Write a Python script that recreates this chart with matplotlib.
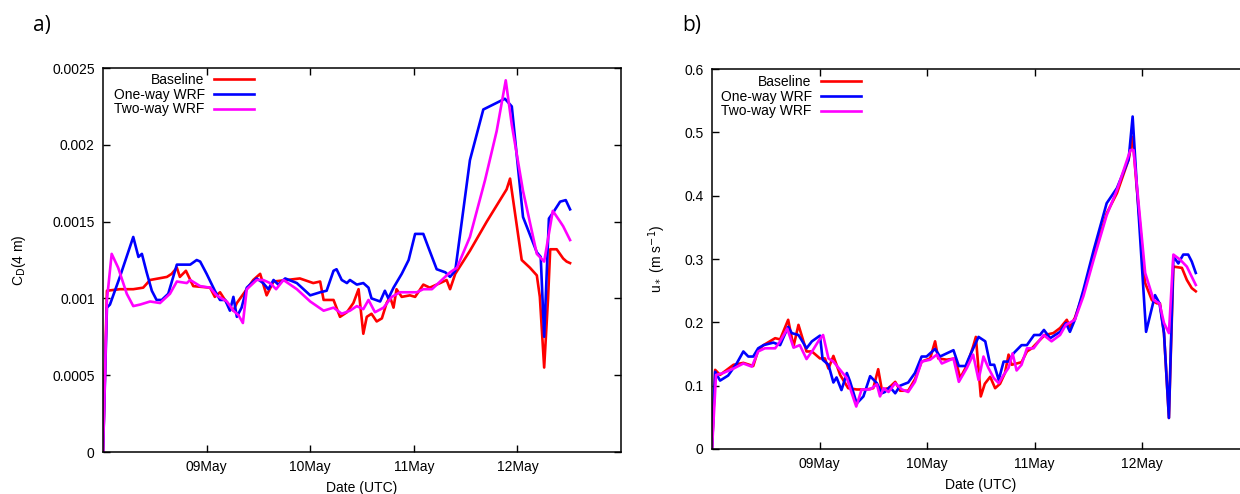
import matplotlib
matplotlib.use("Agg")
import matplotlib.pyplot as plt
import numpy as np

plt.rcParams["font.family"] = ["Liberation Sans", "DejaVu Sans"]
plt.rcParams["font.size"] = 10

# hours since 08 May 00 UTC
labels = ["Baseline", "One-way WRF", "Two-way WRF"]
colors = ["#ff0000", "#0000ff", "#ff00ff"]
day_ticks = [1, 2, 3, 4]
day_labels = ["09May", "10May", "11May", "12May"]

# drag coefficient at 4 m
cd_base_t = [0, 0.9, 3.9, 7.0, 9.3, 10.9, 14.8, 15.9, 17.1, 17.8, 19.2, 20.9, 24.8, 25.9, 27.1,
             28.7, 30.2, 31.0, 33.3, 34.8, 36.4, 37.9, 39.5, 42.6, 45.6, 48.7, 50.3, 51.1, 53.4,
             54.9, 56.5, 58.0, 59.2, 60.3, 61.1, 62.2, 63.4, 64.6, 65.7, 66.5, 67.3, 68.0, 69.2,
             71.1, 72.3, 74.2, 75.7, 78.1, 79.6, 80.4, 81.6, 85.0, 88.9, 93.5, 94.3, 97.0, 98.9,
             100.5, 101.2, 102.2, 103.1, 103.6, 105.1, 106.6, 107.4, 108.2]
cd_base = [0, .00105, .00106, .00106, .00107, .00112, .00114, .00116, .00120, .00114, .00118,
           .00108, .00107, .00101, .00104, .00097, .00092, .00097, .00106, .00112, .00116,
           .00102, .00111, .00112, .00113, .00110, .00111, .00099, .00099, .00088, .00091,
           .00097, .00106, .00077, .00088, .00090, .00085, .00087, .00097, .00101, .00094,
           .00106, .00101, .00102, .00101, .00109, .00107, .00110, .00112, .00106, .00116,
           .00131, .00150, .00171, .00178, .00125, .00120, .00115, .00101, .00055, .00100,
           .00132, .00132, .00126, .00124, .00123]

cd_one_t = [0, 0.9, 1.6, 3.9, 7.0, 8.2, 9.0, 10.1, 11.3, 12.4, 13.6, 15.1, 17.1, 20.2, 21.7,
            22.5, 24.0, 25.9, 27.1, 28.3, 29.4, 30.2, 31.0, 32.1, 33.3, 35.6, 37.1, 38.3, 39.5,
            40.6, 42.2, 44.9, 48.0, 50.3, 51.8, 53.4, 54.1, 55.3, 56.5, 57.2, 58.8, 60.3, 61.5,
            62.2, 64.2, 65.3, 66.1, 67.3, 69.2, 70.8, 72.3, 74.2, 75.4, 77.3, 79.3, 80.4, 81.6,
            85.0, 88.1, 93.1, 94.7, 97.3, 100.5, 101.4, 102.2, 103.3, 104.3, 105.9, 107.2, 108.2]
cd_one = [0, .00094, .00096, .00114, .00140, .00127, .00129, .00117, .00105, .00099, .00099,
          .00103, .00122, .00122, .00125, .00124, .00116, .00105, .00099, .00099, .00092,
          .00101, .00088, .00094, .00107, .00113, .00110, .00106, .00112, .00109, .00113,
          .00110, .00102, .00104, .00105, .00118, .00119, .00112, .00110, .00112, .00109,
          .00110, .00107, .00100, .00098, .00105, .00100, .00107, .00116, .00125, .00142,
          .00142, .00133, .00119, .00117, .00114, .00118, .00190, .00223, .00230, .00225,
          .00153, .00130, .00127, .00075, .00152, .00156, .00163, .00164, .00158]

cd_two_t = [0, 0.9, 2.0, 3.5, 5.5, 7.0, 8.6, 10.9, 13.2, 15.5, 17.1, 19.4, 20.2, 22.5, 24.8,
            26.3, 28.7, 30.2, 31.4, 32.4, 33.3, 35.6, 37.1, 38.7, 40.1, 41.8, 44.9, 48.0, 51.1,
            53.4, 55.3, 57.2, 58.8, 60.3, 61.5, 63.0, 65.0, 66.9, 68.8, 72.7, 74.2, 76.2, 78.1,
            80.4, 82.0, 85.0, 88.5, 91.2, 93.3, 94.7, 97.3, 100.5, 102.2, 104.2, 105.9, 106.6,
            108.2]
cd_two = [0, .00099, .00129, .00120, .00103, .00095, .00096, .00098, .00097, .00103, .00111,
          .00110, .00112, .00108, .00107, .00102, .00098, .00092, .00089, .00084, .00106,
          .00112, .00112, .00110, .00106, .00112, .00106, .00098, .00092, .00094, .00090,
          .00092, .00095, .00093, .00099, .00091, .00094, .00101, .00104, .00104, .00106,
          .00106, .00111, .00117, .00120, .00140, .00177, .00209, .00242, .00213, .00170,
          .00129, .00124, .00157, .00150, .00147, .00138]

# friction velocity (m/s)
us_base_t = [0, 0.7, 1.8, 4.8, 7.0, 9.2, 10.3, 11.5, 14.1, 15.2, 17.0, 18.2, 19.3, 21.1, 22.3,
             24.1, 25.2, 26.0, 27.1, 28.6, 30.4, 32.3, 34.5, 36.0, 37.1, 37.9, 39.4, 40.9, 42.0,
             43.8, 45.3, 46.8, 48.7, 49.8, 50.5, 52.4, 54.3, 55.4, 56.9, 58.3, 58.9, 60.0, 60.9,
             62.1, 63.2, 64.3, 65.4, 66.2, 66.9, 68.0, 69.1, 70.3, 71.4, 72.9, 74.3, 76.2, 77.7,
             79.2, 79.9, 81.0, 82.9, 85.2, 88.1, 90.4, 93.0, 93.9, 94.8, 96.7, 98.2, 99.3, 100.0,
             100.9, 102.0, 103.0, 104.9, 106.0, 107.1, 108.0]
us_base = [0, .125, .117, .133, .136, .131, .156, .164, .175, .173, .204, .162, .196, .154,
           .154, .143, .143, .127, .147, .117, .096, .094, .094, .096, .126, .094, .096, .106,
           .092, .092, .110, .138, .143, .170, .143, .141, .143, .112, .132, .162, .177, .083,
           .103, .114, .096, .103, .120, .149, .133, .135, .137, .154, .159, .170, .180, .183,
           .191, .204, .193, .207, .246, .304, .372, .404, .457, .493, .414, .262, .235, .230,
           .230, .183, .049, .288, .286, .267, .254, .249]

us_one_t = [0, 0.7, 1.8, 3.6, 5.5, 7.0, 8.1, 9.2, 10.3, 11.5, 13.7, 15.2, 16.5, 17.0, 17.8,
            19.3, 20.0, 21.1, 22.3, 24.1, 24.7, 26.0, 27.1, 27.8, 28.9, 30.1, 30.8, 32.3, 33.8,
            35.3, 36.8, 37.9, 38.6, 39.7, 40.9, 42.0, 43.8, 45.3, 46.8, 47.9, 49.8, 50.9, 53.9,
            55.1, 56.6, 57.3, 59.5, 61.0, 62.1, 63.0, 64.0, 65.1, 66.2, 67.3, 69.1, 70.3, 71.9,
            73.2, 74.1, 75.5, 77.7, 79.0, 79.9, 81.0, 82.9, 85.2, 88.1, 90.4, 93.0, 93.9, 94.8,
            96.9, 98.9, 99.9, 100.9, 102.0, 103.0, 104.1, 105.2, 106.3, 107.1, 108.0]
us_one = [0, .122, .108, .116, .135, .154, .146, .146, .159, .164, .168, .164, .185, .193,
          .183, .180, .172, .159, .170, .179, .141, .133, .105, .113, .093, .120, .107, .072,
          .083, .115, .104, .088, .090, .098, .088, .100, .105, .120, .146, .146, .158, .146,
          .156, .131, .131, .143, .177, .170, .133, .133, .109, .138, .138, .151, .164, .164,
          .180, .180, .188, .175, .185, .199, .185, .204, .251, .314, .388, .412, .457, .525,
          .420, .185, .243, .230, .183, .049, .304, .293, .307, .307, .296, .278]

us_two_t = [0, 0.9, 2.5, 4.8, 7.0, 8.9, 10.3, 11.8, 14.1, 15.2, 16.8, 18.2, 19.6, 21.1, 22.6,
            23.9, 24.8, 26.0, 27.1, 28.6, 30.1, 31.2, 32.2, 33.4, 35.3, 36.8, 37.5, 38.3, 39.4,
            40.9, 42.4, 43.8, 45.3, 46.8, 48.7, 50.2, 51.3, 53.9, 55.1, 56.9, 58.3, 59.5, 60.6,
            61.7, 62.9, 64.0, 65.1, 66.2, 67.1, 68.0, 69.1, 70.3, 71.8, 74.0, 75.8, 77.7, 79.0,
            81.0, 82.9, 85.2, 88.1, 90.4, 93.4, 94.1, 94.8, 96.7, 98.6, 99.9, 100.9, 102.0,
            103.0, 104.5, 106.0, 107.1, 108.0]
us_two = [0, .117, .120, .127, .135, .130, .154, .159, .159, .170, .190, .160, .164, .142,
          .157, .172, .180, .143, .138, .125, .112, .088, .067, .094, .094, .102, .083, .096,
          .090, .104, .094, .090, .106, .138, .141, .149, .135, .143, .106, .128, .149, .109,
          .146, .128, .112, .104, .117, .128, .151, .124, .133, .159, .159, .180, .170, .180,
          .196, .204, .241, .299, .369, .409, .472, .472, .420, .278, .235, .230, .199, .183,
          .307, .299, .288, .272, .259]

cd_ticks = [0, 0.0005, 0.001, 0.0015, 0.002, 0.0025]
cd_tick_labels = ["0", "0.0005", "0.001", "0.0015", "0.002", "0.0025"]
us_ticks = [0, 0.1, 0.2, 0.3, 0.4, 0.5, 0.6]
us_tick_labels = ["0", "0.1", "0.2", "0.3", "0.4", "0.5", "0.6"]

fig = plt.figure(figsize=(12.4, 4.94), dpi=100)
ax_a = fig.add_axes([0.0831, 0.085, 0.4177, 0.7773])
ax_b = fig.add_axes([0.5742, 0.0911, 0.4335, 0.7692])


def draw_panel(ax, series, yticks, yticklabels, ylim, ylabel, label_x, leg_anchor):
    for (t, v), lab, col in zip(series, labels, colors):
        ax.plot(np.array(t) / 24.0, v, color=col, lw=1.9, label=lab)
    ax.set_xlim(0, 5)
    ax.set_ylim(*ylim)
    ax.set_xticks(day_ticks)
    ax.set_xticklabels(day_labels)
    ax.set_yticks(yticks)
    ax.set_yticklabels(yticklabels)
    ax.tick_params(direction="in", length=5, width=1.0, top=True, right=True,
                   labelsize=10, pad=6)
    for sp in ax.spines.values():
        sp.set_linewidth(1.1)
    ax.set_xlabel("Date (UTC)", fontsize=10, labelpad=5)
    ax.set_ylabel(ylabel, fontsize=10)
    ax.yaxis.set_label_coords(label_x, 0.5)
    ax.legend(loc="upper right", bbox_to_anchor=leg_anchor, frameon=False,
              markerfirst=False, handlelength=2.9, handletextpad=0.65,
              labelspacing=0.05, borderpad=0, borderaxespad=0, fontsize=10)


draw_panel(ax_a, [(cd_base_t, cd_base), (cd_one_t, cd_one), (cd_two_t, cd_two)],
           cd_ticks, cd_tick_labels, (0, 0.0025), r"C$_{\rm D}$(4 m)", -0.145,
           (0.2915, 0.987))
draw_panel(ax_b, [(us_base_t, us_base), (us_one_t, us_one), (us_two_t, us_two)],
           us_ticks, us_tick_labels, (0, 0.6), r"u$_*$ (m s$^{-1}$)", -0.082,
           (0.2772, 0.984))

fig.text(33 / 1240, 1 - 26 / 494, "a)", fontsize=15, family="Open Sans", va="center")
fig.text(682 / 1240, 1 - 26 / 494, "b)", fontsize=15, family="Open Sans", va="center")

fig.savefig("out.png", dpi=100)
